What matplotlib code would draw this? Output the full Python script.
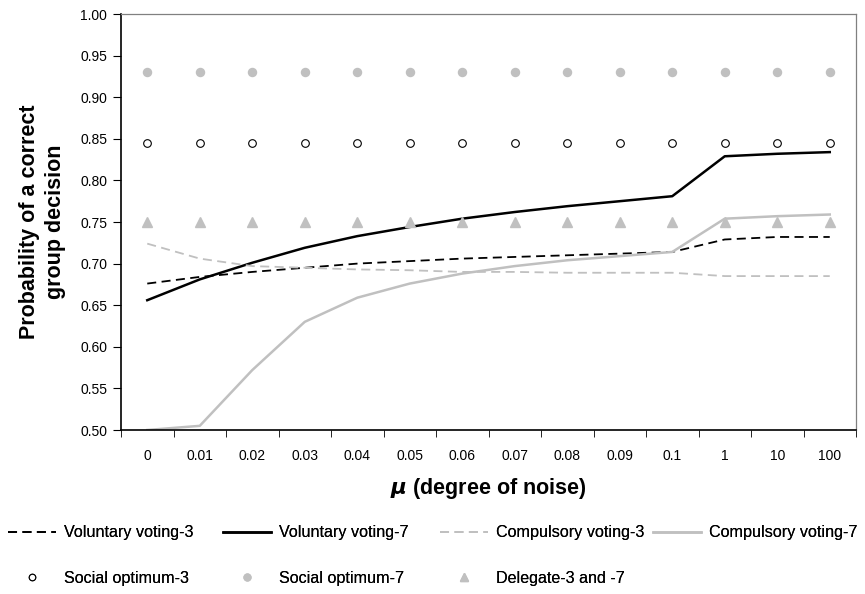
import matplotlib
matplotlib.use("Agg")
import matplotlib.pyplot as plt
import numpy as np

plt.rcParams["font.family"] = ["Liberation Sans", "DejaVu Sans"]

mu_labels = ["0", "0.01", "0.02", "0.03", "0.04", "0.05", "0.06", "0.07",
             "0.08", "0.09", "0.1", "1", "10", "100"]

voluntary_3 = [0.676, 0.684, 0.690, 0.695, 0.700, 0.703, 0.706, 0.708,
               0.710, 0.712, 0.714, 0.729, 0.732, 0.732]
voluntary_7 = [0.656, 0.681, 0.701, 0.719, 0.733, 0.744, 0.754, 0.762,
               0.769, 0.775, 0.781, 0.829, 0.832, 0.834]
compulsory_3 = [0.724, 0.706, 0.697, 0.695, 0.693, 0.692, 0.690, 0.690,
                0.689, 0.689, 0.689, 0.685, 0.685, 0.685]
compulsory_7 = [0.500, 0.505, 0.572, 0.630, 0.659, 0.676, 0.688, 0.697,
                0.704, 0.709, 0.714, 0.754, 0.757, 0.759]
social_opt_3 = [0.845] * 14
social_opt_7 = [0.930] * 14
delegate = [0.750] * 14

x = np.arange(len(mu_labels))
GREY = "#c0c0c0"
W, H = 865, 594

fig = plt.figure(figsize=(W / 100, H / 100), dpi=100)
ax = fig.add_axes([121 / W, 1 - 430 / H, 735 / W, 416 / H])

l1, = ax.plot(x, voluntary_3, color="black", lw=1.3, ls=(0, (5, 3)))
l2, = ax.plot(x, voluntary_7, color="black", lw=1.8)
l3, = ax.plot(x, compulsory_3, color=GREY, lw=1.3, ls=(0, (5, 3)))
l4, = ax.plot(x, compulsory_7, color=GREY, lw=1.8)
m1, = ax.plot(x, social_opt_3, ls="none", marker="o", ms=5.5,
              mfc="white", mec="black", mew=0.8)
m2, = ax.plot(x, social_opt_7, ls="none", marker="o", ms=5.8,
              mfc=GREY, mec=GREY)
m3, = ax.plot(x, delegate, ls="none", marker="^", ms=7.5,
              mfc=GREY, mec=GREY)

yticks = np.arange(0.5, 1.001, 0.05)
ax.set_xlim(-0.5, len(mu_labels) - 0.5)
ax.set_ylim(0.5, 1.0)
ax.set_yticks(yticks)
ax.set_yticklabels([f"{v:.2f}" for v in yticks])
ax.set_xticks(x)
ax.set_xticklabels(mu_labels)
ax.set_xticks(np.arange(-0.5, len(mu_labels), 1.0), minor=True)
ax.tick_params(axis="x", which="major", length=0, pad=14, labelsize=10)
ax.tick_params(axis="x", which="minor", length=5, direction="out")
ax.tick_params(axis="y", length=6, direction="out", labelsize=10, pad=4)

for side in ("top", "right"):
    ax.spines[side].set_color("#808080")
    ax.spines[side].set_linewidth(0.9)
for side in ("left", "bottom"):
    ax.spines[side].set_color("black")
    ax.spines[side].set_linewidth(1.2)

ax.set_xlabel(r"$\boldsymbol{\mu}$ (degree of noise)", fontsize=15.5,
              fontweight="bold", labelpad=9)
ax.set_ylabel("Probability of a correct\ngroup decision", fontsize=15.5,
              fontweight="bold", labelpad=10, linespacing=1.3)

# legend entries placed like the original: (handle, label, left x px, centre y px)
entries = [
    (l1, "Voluntary voting-3", 8, 533),
    (l2, "Voluntary voting-7", 223, 533),
    (l3, "Compulsory voting-3", 440, 533),
    (l4, "Compulsory voting-7", 653, 533),
    (m1, "Social optimum-3", 8, 578),
    (m2, "Social optimum-7", 223, 578),
    (m3, "Delegate-3 and -7", 440, 578),
]
for handle, label, px, py in entries:
    leg = fig.legend([handle], [label], loc="center left",
                     bbox_to_anchor=(px / W, 1 - py / H), frameon=False,
                     fontsize=11.6, handlelength=3.0, handletextpad=0.45,
                     borderpad=0, borderaxespad=0, markerscale=0.85)
    fig.add_artist(leg)

fig.savefig("out.png", dpi=100)
